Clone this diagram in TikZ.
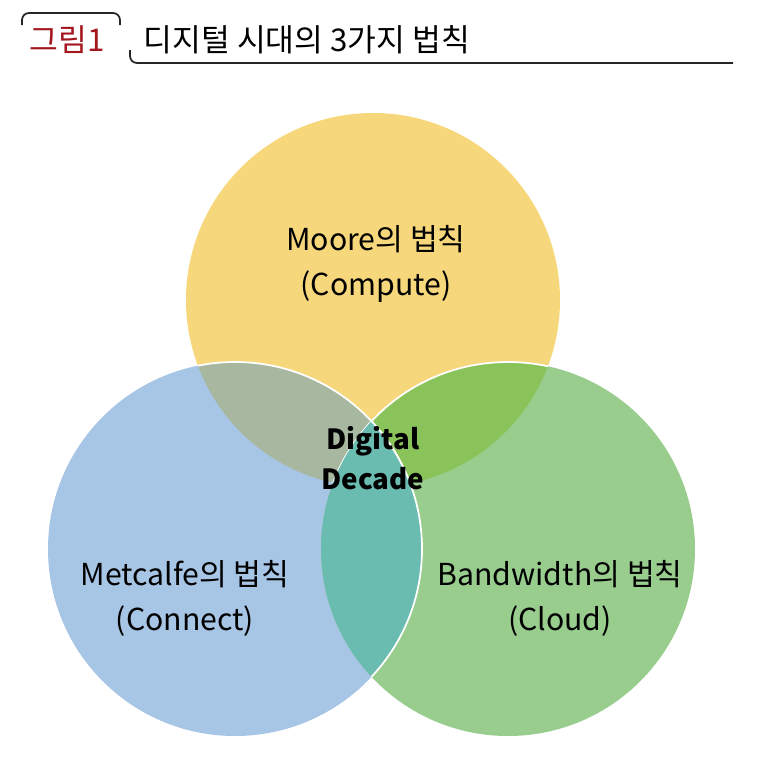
\documentclass[tikz,border=0pt]{standalone}
\usepackage{fontspec}
\setmainfont{Noto Sans CJK KR}
\usetikzlibrary{positioning}
\definecolor{moore}{HTML}{F7D77B}
\definecolor{metc}{HTML}{A7C5E5}
\definecolor{band}{HTML}{98CD8E}
\definecolor{mm}{HTML}{A7B7A0}
\definecolor{mb}{HTML}{8BC35B}
\definecolor{cb}{HTML}{6ABCB0}
\definecolor{figred}{HTML}{A3161E}
\begin{document}
\begin{tikzpicture}[x=0.1mm,y=-0.1mm,
  lbl/.style={font=\fontsize{8.6}{12.8}\selectfont,align=center,text=black,inner sep=0pt},
  core/.style={lbl,font=\fontsize{7.9}{11.4}\selectfont\bfseries},
  ttl/.style={font=\fontsize{8.9}{11}\selectfont,inner sep=0pt},
  rim/.style={draw=black!85,line width=0.5pt,rounded corners=2pt},
  seam/.style={draw=white,line width=0.5pt}]
\useasboundingbox (0,0) rectangle (773,770);
\def\rad{187}
\coordinate (cm) at (373,300);
\coordinate (cl) at (235,549);
\coordinate (cr) at (508,549);
% header
\node[ttl,text=figred] (fig) at (67,40) {그림1};
\node[ttl,anchor=west] (title) at (143,40) {디지털 시대의 3가지 법칙};
\draw[rim] (22,25) -- (22,13) -- (120,13) -- (120,25);
\draw[rim] (130,50) -- (130,63) -- (733,63);
% circles
\fill[moore] (cm) circle (\rad);
\fill[metc] (cl) circle (\rad);
\fill[band] (cr) circle (\rad);
\begin{scope}
  \clip (cm) circle (\rad);
  \fill[mm] (cl) circle (\rad);
  \fill[mb] (cr) circle (\rad);
  \path[seam] (cl) circle (\rad) (cr) circle (\rad);
\end{scope}
\begin{scope}
  \clip (cl) circle (\rad);
  \fill[cb] (cr) circle (\rad);
\end{scope}
\begin{scope}
  \clip (cr) circle (\rad);
  \path[seam] (cl) circle (\rad);
\end{scope}
% labels
\node[lbl] (moo) at (376,264) {Moore의 법칙\\(Compute)};
\node[lbl] (met) at (185,598) {Metcalfe의 법칙\\(Connect)};
\node[lbl] (bw) at (560,598) {Bandwidth의 법칙\\(Cloud)};
\node[core] (dd) at (373,458) {Digital\\Decade};
\end{tikzpicture}
\end{document}
